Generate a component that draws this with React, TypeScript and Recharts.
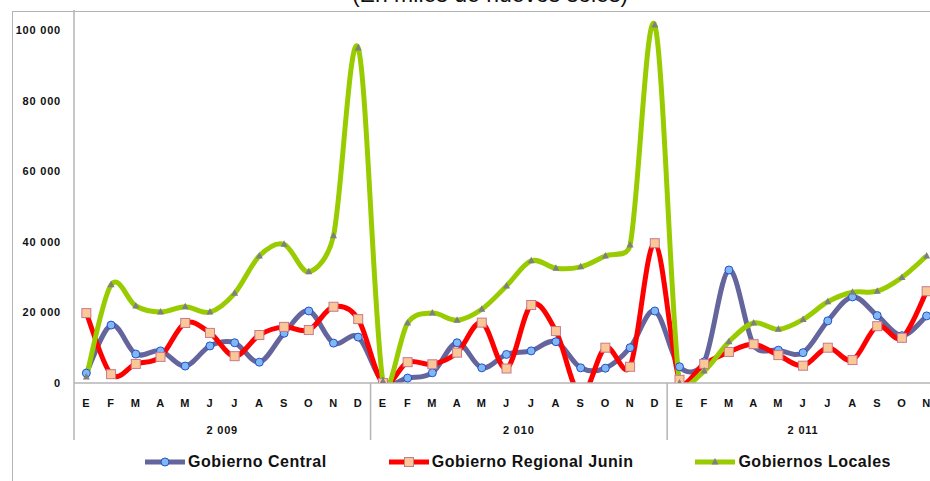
import { LineChart, Line, XAxis, YAxis } from 'recharts';

const MONTHS = ['E', 'F', 'M', 'A', 'M', 'J', 'J', 'A', 'S', 'O', 'N', 'D'];
const YEARS = ['2 009', '2 010', '2 011'];
const Y_TICKS = [0, 20000, 40000, 60000, 80000, 100000];

// miles de nuevos soles, ene 2009 - nov 2011
const central = [
    2800, 16400, 8200, 9100, 4800, 10500, 11400, 5900, 14100, 20400, 11300, 13000,
    300, 1400, 2900, 11400, 4300, 8100, 9100, 11700, 4300, 4200, 10000, 20400,
    4600, 6000, 32000, 10800, 9300, 8600, 17600, 24400, 19100, 13400, 19000,
];
const regional = [
    19800, 2500, 5400, 7400, 17000, 14200, 7600, 13600, 15900, 15000, 21600, 18100,
    0, 5900, 5300, 8600, 17100, 4100, 22100, 14700, -3500, 10000, 4600, 39600,
    900, 5400, 8800, 11000, 7900, 4900, 10000, 6500, 16100, 12800, 26000,
];
const locales = [
    1700, 27800, 21800, 20100, 21600, 20100, 25400, 36000, 39300, 31500, 41700, 94900,
    500, 17000, 19800, 17800, 20900, 27500, 34600, 32500, 32900, 36000, 39100, 101400,
    0, 3400, 11700, 17000, 15200, 18000, 23000, 25700, 26000, 29900, 36000,
];

const data = central.map((c, i) => ({
    month: MONTHS[i % 12],
    year: YEARS[Math.floor(i / 12)],
    central: c,
    regional: regional[i],
    locales: locales[i],
}));

const BLUE = '#64659c';
const RED = '#ff0000';
const GREEN = '#99cc00';
const AXIS = '#b4b4b4';
const TICK_FONT = { fontFamily: '"Liberation Sans", Arial, sans-serif', fontSize: 11, fontWeight: 700, letterSpacing: 0.8 };

const CHART_W = 940;
const MARGIN = { top: 10, right: 1, left: 12, bottom: 41 };
const Y_AXIS_W = 62;
const PLOT_W = CHART_W - MARGIN.left - MARGIN.right - Y_AXIS_W;
const HALF_BAND = PLOT_W / data.length / 2;

// excel-like smoothing: catmull-rom tangents, control arm capped at half the neighbour segment
const excelSmooth = (context: any) => {
    let pts: number[][] = [];
    const arm = (p: number[], q: number[], tx: number, ty: number, sign: number) => {
        const seg = Math.hypot(q[0] - p[0], q[1] - p[1]);
        const len = Math.hypot(tx, ty);
        const k = len > seg / 2 && len > 0 ? seg / 2 / len : 1;
        return [p[0] + sign * tx * k, p[1] + sign * ty * k];
    };
    return {
        areaStart() {},
        areaEnd() {},
        lineStart() {
            pts = [];
        },
        lineEnd() {
            const n = pts.length;
            if (!n) return;
            context.moveTo(pts[0][0], pts[0][1]);
            for (let i = 0; i < n - 1; i++) {
                const p0 = pts[Math.max(i - 1, 0)];
                const p1 = pts[i];
                const p2 = pts[i + 1];
                const p3 = pts[Math.min(i + 2, n - 1)];
                const c1 = arm(p1, p2, (p2[0] - p0[0]) / 6, (p2[1] - p0[1]) / 6, 1);
                const c2 = arm(p2, p1, (p3[0] - p1[0]) / 6, (p3[1] - p1[1]) / 6, -1);
                context.bezierCurveTo(c1[0], c1[1], c2[0], c2[1], p2[0], p2[1]);
            }
        },
        point(x: number, y: number) {
            pts.push([+x, +y]);
        },
    };
};

const fmt = (v: number) => String(v).replace(/\B(?=(\d{3})+(?!\d))/g, ' ');

const CircleDot = (p: any) => (
    <circle key={`c${p.index}`} cx={p.cx} cy={p.cy} r={4} fill="#80b8f4" stroke="#2450c8" strokeWidth={1} />
);
const SquareDot = (p: any) => (
    <rect key={`s${p.index}`} x={p.cx - 4.5} y={p.cy - 4.5} width={9} height={9} fill="#fbc796" stroke="#c47a90" strokeWidth={1} />
);
const TriangleDot = (p: any) => (
    <path key={`t${p.index}`} d={`M${p.cx},${p.cy - 4} L${p.cx + 3.5},${p.cy + 2.5} L${p.cx - 3.5},${p.cy + 2.5} Z`} fill="#7f7f7f" />
);

const MonthTick = (props: any) => {
    const { x, y, payload, index } = props;
    const half = HALF_BAND;
    const i = index ?? payload?.index ?? 0;
    const groupStart = i % 12 === 0;
    const n = Math.min(12, data.length - i);
    return (
        <g>
            <text x={x} y={y + 21} textAnchor="middle" dominantBaseline="middle" fill="#111" style={TICK_FONT}>
                {payload.value}
            </text>
            {groupStart && (
                <>
                    <line x1={x - half} x2={x - half} y1={y} y2={y + 57} stroke={AXIS} strokeWidth={1.5} />
                    <text x={x + (n - 1) * half} y={y + 48} textAnchor="middle" dominantBaseline="middle" fill="#111" style={TICK_FONT}>
                        {data[i].year}
                    </text>
                </>
            )}
        </g>
    );
};

const legendItems = [
    { name: 'Gobierno Central', color: BLUE, dot: <circle cx={20} cy={6} r={4} fill="#80b8f4" stroke="#2450c8" strokeWidth={1} /> },
    { name: 'Gobierno Regional Junin', color: RED, dot: <rect x={15.5} y={1.5} width={9} height={9} fill="#fbc796" stroke="#c47a90" strokeWidth={1} /> },
    { name: 'Gobiernos Locales', color: GREEN, dot: <path d="M20,2 L23.5,8.5 L16.5,8.5 Z" fill="#7f7f7f" /> },
];

export default function App() {
    return (
        <div style={{ position: 'absolute', left: 0, top: 0, width: 930, height: 481, overflow: 'hidden', background: '#fff' }}>
            <div
                style={{
                    position: 'absolute',
                    left: 50,
                    width: 880,
                    top: -17,
                    lineHeight: '23px',
                    textAlign: 'center',
                    fontFamily: '"Liberation Sans", Arial, sans-serif',
                    fontSize: 23,
                    color: '#111',
                }}
            >
                (En miles de nuevos soles)
            </div>
            <div style={{ position: 'absolute', left: 12, top: 11, width: 1000, height: 500, borderLeft: `1px solid ${AXIS}`, borderTop: `1px solid ${AXIS}` }} />
            <div style={{ position: 'absolute', left: 0, top: 0 }}>
                <LineChart width={CHART_W} height={481} data={data} margin={MARGIN}>
                    <XAxis
                        dataKey="month"
                        interval={0}
                        tickLine={false}
                        tickSize={0}
                        tickMargin={0}
                        height={57}
                        padding={{ left: HALF_BAND, right: HALF_BAND }}
                        axisLine={{ stroke: AXIS, strokeWidth: 1.5 }}
                        tick={MonthTick}
                    />
                    <YAxis
                        type="number"
                        domain={[0, 105666]}
                        ticks={Y_TICKS}
                        allowDataOverflow
                        width={Y_AXIS_W}
                        tickLine={false}
                        tickSize={0}
                        tickMargin={13}
                        tickFormatter={fmt}
                        axisLine={{ stroke: AXIS, strokeWidth: 1.5 }}
                        tick={{ fill: '#111', ...TICK_FONT }}
                    />
                    <Line dataKey="central" type={excelSmooth as any} stroke={BLUE} strokeWidth={5} dot={CircleDot} isAnimationActive={false} />
                    <Line dataKey="regional" type={excelSmooth as any} stroke={RED} strokeWidth={5} dot={SquareDot} isAnimationActive={false} />
                    <Line dataKey="locales" type={excelSmooth as any} stroke={GREEN} strokeWidth={5} dot={TriangleDot} isAnimationActive={false} />
                </LineChart>
            </div>
            <div style={{ position: 'absolute', left: 145, top: 452, display: 'flex', gap: 62, alignItems: 'center' }}>
                {legendItems.map((it) => (
                    <div key={it.name} style={{ display: 'flex', alignItems: 'center' }}>
                        <svg width={40} height={12} style={{ marginRight: 3 }}>
                            <line x1={0} x2={40} y1={6} y2={6} stroke={it.color} strokeWidth={5} strokeLinecap="round" />
                            {it.dot}
                        </svg>
                        <span
                            style={{
                                fontFamily: '"Liberation Sans", Arial, sans-serif',
                                fontSize: 16,
                                fontWeight: 700,
                                letterSpacing: 0.5,
                                color: '#111',
                                lineHeight: '20px',
                            }}
                        >
                            {it.name}
                        </span>
                    </div>
                ))}
            </div>
        </div>
    );
}
